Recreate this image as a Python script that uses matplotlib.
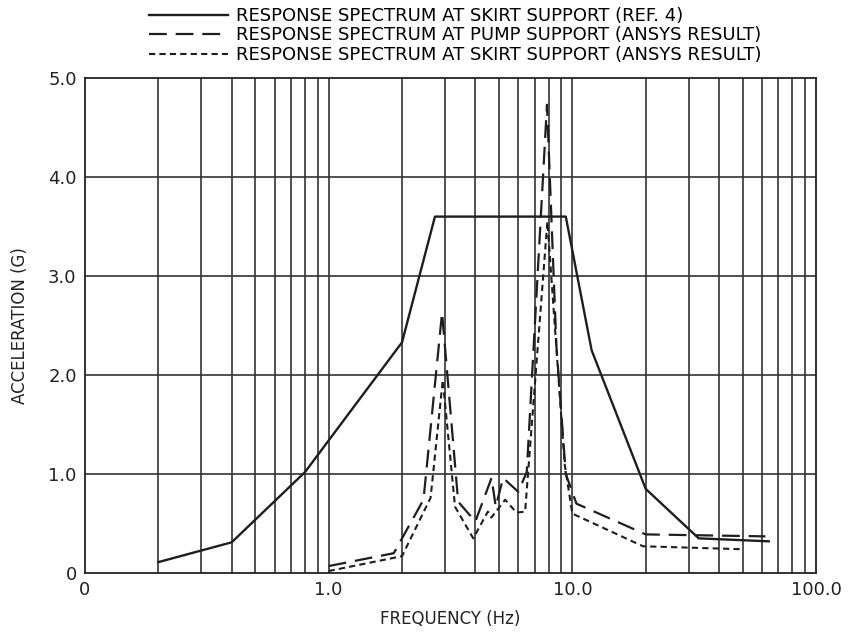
import numpy as np
import matplotlib
matplotlib.use("Agg")
import matplotlib.pyplot as plt

plt.rcParams['font.family'] = ['Liberation Sans Narrow', 'DejaVu Sans']

# response spectrum at skirt support (ref. 4)
f_ref = [0.2, 0.4, 0.8, 2.0, 2.73, 9.4, 12.0, 20.0, 33.0, 64.0]
a_ref = [0.11, 0.31, 1.02, 2.33, 3.6, 3.6, 2.25, 0.85, 0.35, 0.32]

# response spectrum at pump support (ansys)
f_pump = [1.0, 1.85, 2.45, 2.92, 3.4, 4.0, 4.66, 4.85, 5.2, 6.0, 6.5, 7.87, 8.6, 9.4, 10.4, 20.0, 62.0]
a_pump = [0.07, 0.2, 0.74, 2.63, 0.72, 0.52, 0.96, 0.67, 0.96, 0.82, 1.02, 4.73, 2.3, 1.0, 0.7, 0.39, 0.37]

# response spectrum at skirt support (ansys)
f_skirt = [1.0, 2.0, 2.62, 2.94, 3.3, 3.92, 4.5, 4.65, 5.3, 5.9, 6.4, 7.9, 9.3, 10.0, 19.5, 50.0]
a_skirt = [0.02, 0.17, 0.76, 1.95, 0.67, 0.35, 0.62, 0.56, 0.74, 0.61, 0.62, 3.55, 1.1, 0.6, 0.27, 0.24]

etiquetas = ["RESPONSE SPECTRUM AT SKIRT SUPPORT (REF. 4)",
             "RESPONSE SPECTRUM AT PUMP SUPPORT (ANSYS RESULT)",
             "RESPONSE SPECTRUM AT SKIRT SUPPORT (ANSYS RESULT)"]

fig = plt.figure(figsize=(8.56, 6.35), dpi=100)
ax = fig.add_axes([85/856, 1-573/635, (816-85)/856, (573-78)/635])

ax.plot(f_ref, a_ref, color="#1e1e1e", lw=1.7, ls="-", label=etiquetas[0])
ax.plot(f_pump, a_pump, color="#1e1e1e", lw=1.6, ls=(0, (8, 4)), label=etiquetas[1])
ax.plot(f_skirt, a_skirt, color="#1e1e1e", lw=1.5, ls=(0, (3, 2)), label=etiquetas[2])

ax.set_xscale("log")
ax.set_xlim(0.1, 100)
ax.set_ylim(0, 5)

# rejilla: todas las lineas iguales
lineas_x = [m*10.0**d for d in range(-1, 2) for m in range(1, 10)][1:]
for xv in lineas_x:
    ax.axvline(xv, color="#333333", lw=1.2, zorder=1)
for yv in [1, 2, 3, 4]:
    ax.axhline(yv, color="#333333", lw=1.2, zorder=1)

ax.set_xticks([0.1, 1, 10, 100])
ax.set_xticklabels(["0", "1.0", "10.0", "100.0"])
ax.set_xticks([], minor=True)
ax.set_yticks([0, 1, 2, 3, 4, 5])
ax.set_yticklabels(["0", "1.0", "2.0", "3.0", "4.0", "5.0"])
ax.tick_params(length=0, labelsize=13, pad=6, colors="#222222")
for s in ax.spines.values():
    s.set_color("#222222")
    s.set_linewidth(1.3)

ax.set_xlabel("FREQUENCY (Hz)", fontsize=12, labelpad=8, color="#222222")
ax.set_ylabel("ACCELERATION (G)", fontsize=12, labelpad=14, color="#222222")

fig.legend(loc="upper left", bbox_to_anchor=(149/856, 1-7/635), frameon=False,
           fontsize=13, handlelength=4.4, handletextpad=0.4, labelspacing=0.08,
           borderpad=0, borderaxespad=0)

plt.savefig("out.png", dpi=100)
